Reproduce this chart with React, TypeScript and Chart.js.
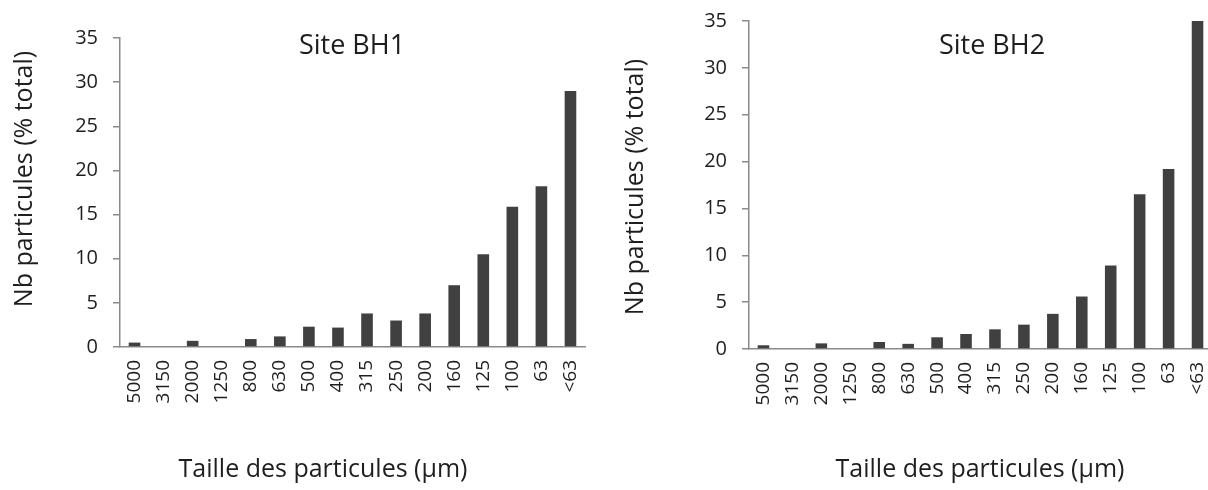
import React, { useEffect, useRef } from "react";
import { Chart, registerables } from "chart.js";

Chart.register(...registerables);

// ---- data ----
const categories = ["5000", "3150", "2000", "1250", "800", "630", "500", "400", "315", "250", "200", "160", "125", "100", "63", "<63"];
const bh1Values = [0.5, 0, 0.7, 0, 0.9, 1.2, 2.3, 2.2, 3.8, 3.0, 3.8, 7.0, 10.5, 15.9, 18.2, 29.0];
const bh2Values = [0.4, 0, 0.6, 0, 0.75, 0.55, 1.25, 1.6, 2.1, 2.6, 3.75, 5.6, 8.9, 16.5, 19.2, 35.0];
const yMin = 0;
const yMax = 35;
const yStep = 5;
const panelTitles = ["Site BH1", "Site BH2"];
const xAxisTitle = "Taille des particules (µm)";
const yAxisTitle = "Nb particules (% total)";

const FONT = "'Open Sans', 'DejaVu Sans', sans-serif";
const BAR_COLOR = "#404040";
const AXIS_COLOR = "#8a8a8a";
const TEXT_COLOR = "#1e1e1e";

type Panel = {
  title: string;
  values: number[];
  canvasLeft: number;
  canvasWidth: number;
  yAxisWidth: number;
  padTop: number;
  padRight: number;
  xAxisHeight: number;
  titlePos: [number, number];
  xTitlePos: [number, number];
  yTitlePos: [number, number];
};

const panels: Panel[] = [
  {
    title: panelTitles[0],
    values: bh1Values,
    canvasLeft: 0,
    canvasWidth: 600,
    yAxisWidth: 120,
    padTop: 38,
    padRight: 15,
    xAxisHeight: 143,
    titlePos: [352, 46],
    xTitlePos: [323, 470],
    yTitlePos: [25, 179],
  },
  {
    title: panelTitles[1],
    values: bh2Values,
    canvasLeft: 600,
    canvasWidth: 612,
    yAxisWidth: 149,
    padTop: 21,
    padRight: 0,
    xAxisHeight: 141,
    titlePos: [392, 46],
    xTitlePos: [380, 470],
    yTitlePos: [36, 187],
  },
];

const textPlugin = {
  id: "panelTexts",
  afterDraw(chart: any, _args: any, opts: any) {
    const ctx = chart.ctx as CanvasRenderingContext2D;
    ctx.save();
    ctx.fillStyle = TEXT_COLOR;
    ctx.textAlign = "center";
    ctx.textBaseline = "middle";
    ctx.font = `27px ${FONT}`;
    ctx.fillText(opts.title, opts.titlePos[0], opts.titlePos[1]);
    ctx.font = `25px ${FONT}`;
    ctx.fillText(opts.xTitle, opts.xTitlePos[0], opts.xTitlePos[1]);
    ctx.translate(opts.yTitlePos[0], opts.yTitlePos[1]);
    ctx.rotate(-Math.PI / 2);
    ctx.fillText(opts.yTitle, 0, 0);
    ctx.restore();
  },
};

function PanelChart({ panel }: { panel: Panel }) {
  const ref = useRef<HTMLCanvasElement | null>(null);
  useEffect(() => {
    if (!ref.current) return;
    const chart = new Chart(ref.current, {
      type: "bar",
      data: {
        labels: categories,
        datasets: [
          {
            data: panel.values,
            backgroundColor: BAR_COLOR,
            borderWidth: 0,
            categoryPercentage: 1,
            barPercentage: 0.4,
          },
        ],
      },
      options: {
        animation: false,
        responsive: false,
        layout: { padding: { top: panel.padTop, right: panel.padRight, left: 0, bottom: 0 } },
        plugins: {
          legend: { display: false },
          tooltip: { enabled: false },
          title: { display: false },
          panelTexts: {
            title: panel.title,
            xTitle: xAxisTitle,
            yTitle: yAxisTitle,
            titlePos: panel.titlePos,
            xTitlePos: panel.xTitlePos,
            yTitlePos: panel.yTitlePos,
          },
        } as any,
        scales: {
          x: {
            grid: { display: false, drawTicks: false },
            border: { display: true, color: AXIS_COLOR, width: 1.5 },
            ticks: {
              autoSkip: false,
              minRotation: 90,
              maxRotation: 90,
              padding: 13,
              color: TEXT_COLOR,
              font: { family: FONT, size: 19 },
            },
            afterFit: (scale: any) => {
              scale.height = panel.xAxisHeight;
              scale.paddingLeft = 0;
              scale.paddingRight = 0;
            },
          },
          y: {
            min: yMin,
            max: yMax,
            grid: { drawOnChartArea: false, drawTicks: true, tickLength: 7, color: AXIS_COLOR, lineWidth: 1.5 },
            border: { display: true, color: AXIS_COLOR, width: 1.5 },
            ticks: {
              stepSize: yStep,
              padding: 15,
              color: TEXT_COLOR,
              font: { family: FONT, size: 20 },
            },
            afterFit: (scale: any) => {
              scale.width = panel.yAxisWidth;
              scale.paddingTop = 0;
              scale.paddingBottom = 0;
            },
          },
        },
      },
      plugins: [textPlugin],
    });
    return () => chart.destroy();
  }, [panel]);

  return (
    <canvas
      ref={ref}
      width={panel.canvasWidth}
      height={490}
      style={{ position: "absolute", left: panel.canvasLeft, top: 0, width: panel.canvasWidth, height: 490 }}
    />
  );
}

export default function App() {
  return (
    <div
      style={{
        position: "fixed",
        left: 0,
        top: 0,
        width: 1208,
        height: 490,
        overflow: "hidden",
        background: "#ffffff",
      }}
    >
      {panels.map((p) => (
        <PanelChart key={p.title} panel={p} />
      ))}
    </div>
  );
}
